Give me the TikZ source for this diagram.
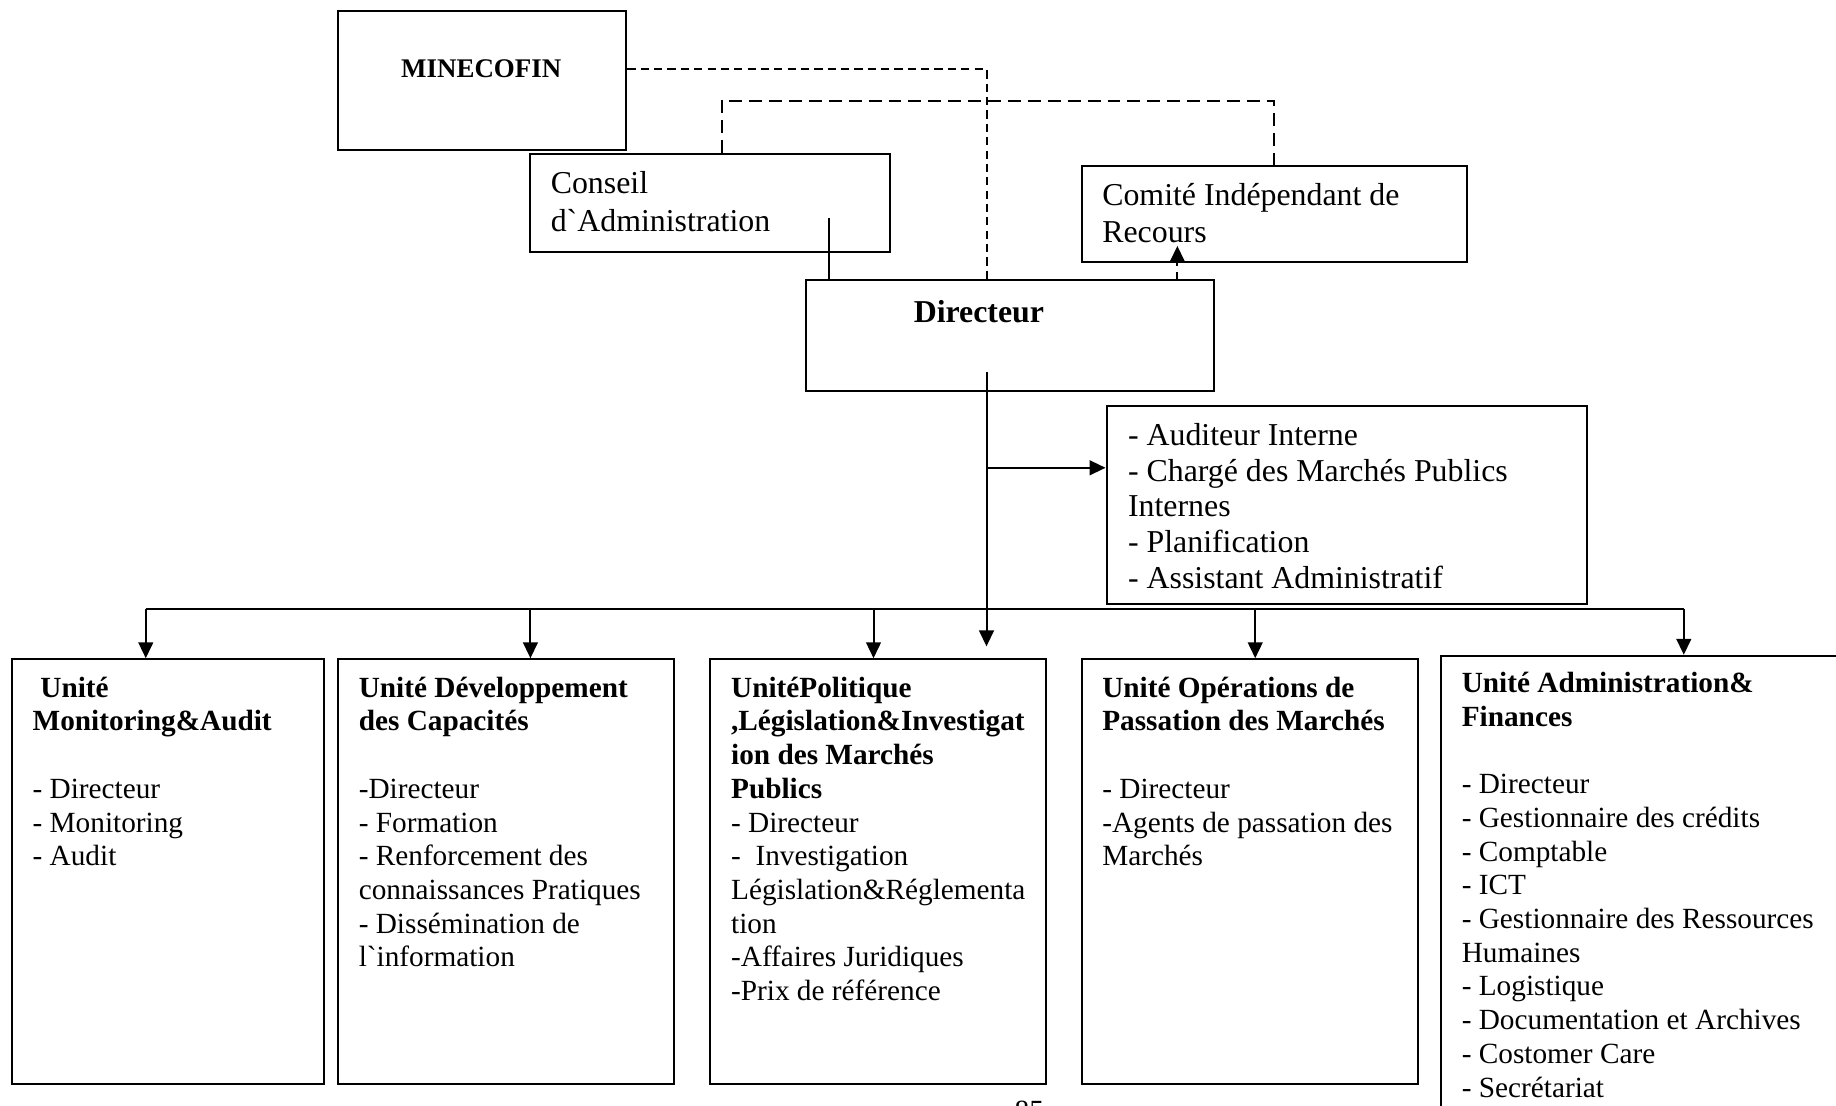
\documentclass[tikz,border=0pt]{standalone}
\usepackage{fontspec}
\setmainfont{Liberation Serif}
\usetikzlibrary{arrows.meta,fit}
\begin{document}
\begin{tikzpicture}[x=0.5pt,y=-0.5pt,
  box/.style={draw,line width=0.85pt,inner sep=0pt},
  ln/.style={line width=0.85pt},
  tip/.style={-{Triangle[length=6.8pt,width=6.3pt]}},
  arr/.style={ln,tip},
  dashA/.style={ln,dash pattern=on 3.5pt off 2.2pt},
  dashB/.style={ln,dash pattern=on 5.5pt off 3pt},
  dashC/.style={ln,dash pattern=on 3pt off 2.5pt},
  txt/.style={anchor=north west,inner sep=0pt,align=left},
  fT/.style={font=\fontsize{13.6}{16}\selectfont},
  fA/.style={font=\fontsize{13.6}{15.25}\selectfont},
  fB/.style={font=\fontsize{12.5}{14.4}\selectfont},
]
\useasboundingbox (0,0) rectangle (1568,944);
\clip (0,0) rectangle (1568,944);

% ---------- boxes ----------
\node[box,fit={(289,9.5) (535,128)}] (mine) {};
\node[box,fit={(452.5,131.5) (760,215)}] (cons) {};
\node[box,fit={(924,142) (1252.5,223.5)}] (com) {};
\node[box,fit={(688,239) (1036.5,333.5)}] (dir) {};
\node[box,fit={(945,347) (1355,516)}] (aud) {};
\node[box,fit={(10.5,563) (276.5,925.5)}] (u1) {};
\node[box,fit={(288.5,563) (575.5,925.5)}] (u2) {};
\node[box,fit={(606,563) (893.5,925.5)}] (u3) {};
\node[box,fit={(924,563) (1211,925.5)}] (u4) {};
\node[box,fit={(1230.5,560) (1620,1000)}] (u5) {};

% ---------- texts ----------
\node[anchor=base,inner sep=0pt,font=\fontsize{11.5}{13}\selectfont\bfseries] (tmine) at (411,66) {MINECOFIN};
\node[txt,fT] (tcons) at (470,142.6) {\strut Conseil\\d\textasciigrave Administration};
\node[txt,fT] (tcom) at (941,152.6) {\strut Comité Indépendant de\\Recours};
\node[anchor=base,inner sep=0pt,font=\fontsize{13.6}{16}\selectfont\bfseries] (tdir) at (836,275) {Directeur};
\node[txt,fA] (taud) at (963,358.6) {\strut - Auditeur Interne\\- Chargé des Marchés Publics\\Internes\\- Planification\\- Assistant Administratif};

\node[txt,fB] (t1) at (27.5,574.8) {\strut\hspace*{3.3pt}\textbf{Unité}\\\textbf{Monitoring\&Audit}\\\strut\\- Directeur\\- Monitoring\\- Audit};
\node[txt,fB] (t2) at (306,574.8) {\strut\textbf{Unité Développement}\\\textbf{des Capacités}\\\strut\\-Directeur\\- Formation\\- Renforcement des\\connaissances Pratiques\\- Dissémination de\\l\textasciigrave information};
\node[txt,fB] (t3) at (624,574.8) {\strut\textbf{UnitéPolitique}\\\textbf{,Législation\&Investigat}\\\textbf{ion des Marchés}\\\textbf{Publics}\\- Directeur\\-\ \ Investigation\\Législation\&Réglementa\\tion\\-Affaires Juridiques\\-Prix de référence};
\node[txt,fB] (t4) at (941,574.8) {\strut\textbf{Unité Opérations de}\\\textbf{Passation des Marchés}\\\strut\\- Directeur\\-Agents de passation des\\Marchés};
\node[txt,fB] (t5) at (1248,570.8) {\strut\textbf{Unité Administration\&}\\\textbf{Finances}\\\strut\\- Directeur\\- Gestionnaire des crédits\\- Comptable\\- ICT\\- Gestionnaire des Ressources\\Humaines\\- Logistique\\- Documentation et Archives\\- Costomer Care\\- Secrétariat};

\node[anchor=base,inner sep=0pt,font=\fontsize{12.5}{14.4}\selectfont] (pg) at (879,956.5) {85};

% ---------- connectors ----------
\coordinate (jm) at (842.5,59);
\draw[dashA] (mine.east |- jm) -- (jm) -- (dir.north -| jm);

\coordinate (jc1) at (616.5,86);
\coordinate (jc2) at (1088,86);
\draw[dashB] (cons.north -| jc1) -- (jc1) -- (jc2) -- (com.north -| jc2);

\coordinate (cs) at (708,186.5);
\draw[ln] (cs) -- (dir.north -| cs);

\coordinate (dc) at (1005.5,210);
\draw[dashC,tip] (dir.north -| dc) -- (dc);

\coordinate (dv) at (842.5,318);
\coordinate (dvend) at (842.5,552);
\draw[arr] (dv) -- (dvend);

\coordinate (br) at (842.5,399.5);
\draw[arr] (br) -- (aud.west |- br);

\coordinate (busL) at (124.5,520);
\coordinate (busR) at (1438,520);
\draw[ln] (busL) -- (busR);
\foreach \n/\x in {u1/124.5,u2/453,u3/746,u4/1072,u5/1438}
  \draw[arr] (\x,520) -- (\n.north -| \x,520);
\end{tikzpicture}
\end{document}
